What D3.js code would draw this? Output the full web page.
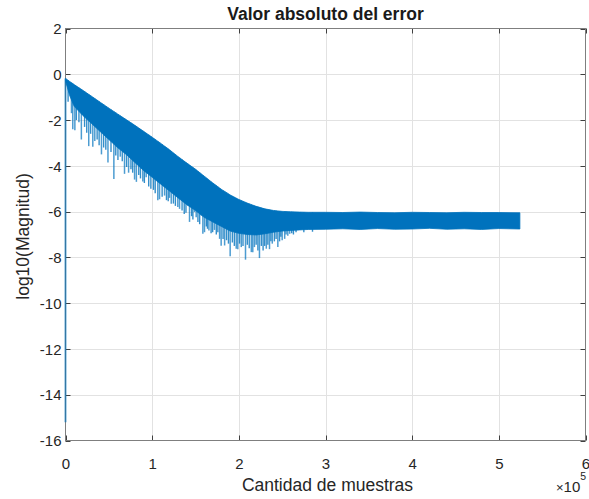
<!DOCTYPE html>
<html>
<head>
<meta charset="utf-8">
<script src="https://cdn.jsdelivr.net/npm/d3@7"></script>
<style>
  html, body { margin: 0; padding: 0; background: #ffffff; }
  svg { display: block; font-family: "Liberation Sans", Arial, Helvetica, sans-serif; }
</style>
</head>
<body>
<svg id="chart" width="589" height="499"></svg>
<script>
// Error magnitude (log10) of a 2^19-sample run.
// The dense trace is summarised by its upper and lower envelope,
// plus its downward excursions as individual spikes.
const sampleX = [0, 5000, 10000, 20000, 30000, 40000, 50000, 60000, 70000, 80000,
  90000, 100000, 110000, 120000, 130000, 140000, 150000, 160000, 170000, 180000,
  190000, 200000, 210000, 220000, 230000, 240000, 250000, 260000, 270000, 280000,
  300000, 320000, 340000, 360000, 380000, 400000, 420000, 440000, 460000, 480000,
  500000, 524288];

const upperLog = [-0.18, -0.32, -0.45, -0.70, -0.96, -1.22, -1.48, -1.73, -1.98, -2.23,
  -2.49, -2.75, -3.02, -3.30, -3.60, -3.88, -4.15, -4.45, -4.75, -5.03,
  -5.27, -5.47, -5.63, -5.77, -5.88, -5.95, -5.99, -6.01, -6.02, -6.03,
  -6.03, -6.04, -6.02, -6.04, -6.05, -6.03, -6.04, -6.05, -6.03, -6.04,
  -6.04, -6.05];

const lowerLog = [-0.30, -0.95, -1.40, -1.80, -2.15, -2.50, -2.85, -3.20, -3.50, -3.85,
  -4.20, -4.50, -4.80, -5.10, -5.40, -5.70, -5.95, -6.25, -6.45, -6.65,
  -6.85, -6.95, -7.00, -7.02, -6.97, -6.90, -6.85, -6.82, -6.80, -6.78,
  -6.77, -6.75, -6.78, -6.74, -6.77, -6.76, -6.73, -6.77, -6.75, -6.78,
  -6.74, -6.76];

// deepest downward spikes
const spikeX = [6900, 8400, 10800, 18300, 26800, 31500, 33800, 41500, 49000, 55800,
  63200, 68100, 72800, 79700, 81800, 89200, 93100, 106500, 108500, 114300,
  120000, 122000, 129600, 131600, 141200, 143100, 149000, 150800, 156700, 158500,
  160400, 165500, 171900, 177800, 179600, 183600, 190000, 197000, 198800, 202800,
  207700, 214400, 216100, 218000, 223800, 231700, 235400, 238600, 245000, 250000,
  252900, 256500, 258700];

const spikeLog = [-1.70, -2.40, -2.45, -2.85, -3.14, -3.17, -2.92, -3.50, -3.85, -4.57,
  -3.60, -4.35, -4.30, -4.60, -4.70, -4.68, -4.50, -5.50, -5.46, -5.30,
  -5.40, -5.66, -5.80, -5.88, -5.73, -6.45, -6.02, -6.25, -6.17, -6.97,
  -6.90, -6.82, -6.80, -7.19, -7.49, -7.48, -7.95, -7.62, -7.64, -7.55,
  -8.10, -7.77, -7.78, -7.55, -8.03, -7.62, -7.64, -7.40, -7.55, -7.25,
  -7.19, -7.05, -6.97];

// shorter spikes along the lower edge of the band
const minorSpikeX = [3000, 12500, 15500, 22000, 24500, 29000, 36500, 38800, 44000, 46500,
  52500, 58000, 60500, 65500, 70500, 75500, 77500, 84500, 86500, 91000,
  96000, 98500, 101500, 103500, 111500, 116500, 118500, 124500, 126800, 134500,
  137000, 139000, 145500, 147000, 152800, 154800, 162500, 163800, 168000, 169800,
  174000, 175800, 181800, 185800, 188000, 192500, 194800, 200800, 204800, 209800,
  212000, 220000, 222000, 226000, 228000, 229800, 233500, 237000, 241000, 243000,
  247000, 248500, 254500, 261000, 263000, 266000, 275000, 285000];

const minorSpikeLog = [-1.20, -2.00, -2.10, -2.30, -2.55, -2.60, -2.85, -3.10, -3.20, -3.30,
  -3.40, -3.55, -3.75, -3.80, -4.05, -4.15, -4.30, -4.40, -4.55, -4.75,
  -4.90, -5.00, -5.05, -5.20, -5.35, -5.50, -5.55, -5.65, -5.75, -5.95,
  -6.10, -6.05, -6.20, -6.35, -6.45, -6.55, -6.65, -6.75, -6.95, -6.90,
  -7.00, -6.90, -7.20, -7.25, -7.40, -7.35, -7.50, -7.40, -7.50, -7.45,
  -7.60, -7.45, -7.70, -7.50, -7.70, -7.50, -7.45, -7.30, -7.30, -7.20,
  -7.30, -7.10, -7.00, -6.95, -7.00, -6.90, -6.90, -6.88];

// first two samples: the very first error is near machine precision
const startX = [1, 2];
const startLog = [-15.2, -0.18];

const xTicks = [0, 100000, 200000, 300000, 400000, 500000, 600000];
const xTickLabels = ["0", "1", "2", "3", "4", "5", "6"];
const yTicks = [-16, -14, -12, -10, -8, -6, -4, -2, 0, 2];

const titleText = "Valor absoluto del error";
const xLabelText = "Cantidad de muestras";
const yLabelText = "log10(Magnitud)";

// ---- layout ----
const svg = d3.select("#chart");
const plot = { left: 65.5, right: 585.5, top: 28.5, bottom: 440.5 };
const lineBlue = "#0072BD";
const axisGray = "#7f7f7f";
const textColor = "#262626";

const x = d3.scaleLinear().domain([0, 600000]).range([plot.left, plot.right]);
const y = d3.scaleLinear().domain([-16, 2]).range([plot.bottom, plot.top]);

// grid
const grid = svg.append("g").attr("stroke", "#e2e2e2").attr("stroke-width", 1);
grid.selectAll("line.gx").data(xTicks.slice(1, -1)).join("line")
  .attr("x1", d => Math.round(x(d)) + 0.5).attr("x2", d => Math.round(x(d)) + 0.5)
  .attr("y1", plot.top).attr("y2", plot.bottom);
grid.selectAll("line.gy").data(yTicks.slice(1, -1)).join("line")
  .attr("y1", d => Math.round(y(d)) + 0.5).attr("y2", d => Math.round(y(d)) + 0.5)
  .attr("x1", plot.left).attr("x2", plot.right);

// axes with inward ticks on all four sides
const tickLen = 5;
const axisBottom = d3.axisBottom(x).tickValues(xTicks).tickSize(0).tickFormat((d, i) => xTickLabels[i]);
const axisLeft = d3.axisLeft(y).tickValues(yTicks).tickSize(0).tickFormat(d => String(d));

const gx = svg.append("g").attr("transform", `translate(0,${plot.bottom})`).call(axisBottom);
gx.select(".domain").remove();
gx.selectAll("text").attr("fill", textColor).attr("font-size", 15)
  .attr("font-family", "Liberation Sans, Arial, sans-serif").attr("dy", "0").attr("y", 28);

const gy = svg.append("g").attr("transform", `translate(${plot.left},0)`).call(axisLeft);
gy.select(".domain").remove();
gy.selectAll("text").attr("fill", textColor).attr("font-size", 15)
  .attr("font-family", "Liberation Sans, Arial, sans-serif").attr("x", -4).attr("dy", "0.35em");

const ticks = svg.append("g").attr("stroke", "#404040").attr("stroke-width", 1);
xTicks.forEach(t => {
  const px = Math.round(x(t)) + 0.5;
  ticks.append("line").attr("x1", px).attr("x2", px).attr("y1", plot.bottom).attr("y2", plot.bottom - tickLen);
  ticks.append("line").attr("x1", px).attr("x2", px).attr("y1", plot.top).attr("y2", plot.top + tickLen);
});
yTicks.forEach(t => {
  const py = Math.round(y(t)) + 0.5;
  ticks.append("line").attr("y1", py).attr("y2", py).attr("x1", plot.left).attr("x2", plot.left + tickLen);
  ticks.append("line").attr("y1", py).attr("y2", py).attr("x1", plot.right).attr("x2", plot.right - tickLen);
});

svg.append("rect")
  .attr("x", plot.left).attr("y", plot.top)
  .attr("width", plot.right - plot.left).attr("height", plot.bottom - plot.top)
  .attr("fill", "none").attr("stroke", axisGray).attr("stroke-width", 1);

// ---- data ----
const band = sampleX.map((s, i) => ({ s, hi: upperLog[i], lo: lowerLog[i] }));
const upperAt = d3.scaleLinear().domain(sampleX).range(upperLog);

function drawSpikes(xs, vs, opacity, width) {
  svg.append("g")
    .selectAll("line")
    .data(xs.map((s, i) => ({ s, v: vs[i] })))
    .join("line")
    .attr("x1", d => x(d.s)).attr("x2", d => x(d.s))
    .attr("y1", d => y(upperAt(d.s))).attr("y2", d => y(d.v))
    .attr("stroke", lineBlue).attr("stroke-opacity", opacity).attr("stroke-width", width);
}
drawSpikes(minorSpikeX, minorSpikeLog, 0.8, 1.4);
drawSpikes(spikeX, spikeLog, 0.7, 1.5);

// dense band
svg.append("path")
  .datum(band)
  .attr("d", d3.area().x(d => x(d.s)).y0(d => y(d.lo)).y1(d => y(d.hi)))
  .attr("fill", lineBlue).attr("stroke", lineBlue).attr("stroke-width", 0.8);

// start of the trace
svg.append("path")
  .datum(startX.map((s, i) => ({ s, v: startLog[i] })))
  .attr("d", d3.line().x(d => x(d.s)).y(d => y(d.v)))
  .attr("fill", "none").attr("stroke", lineBlue).attr("stroke-opacity", 0.6).attr("stroke-width", 2);

// ---- text ----
svg.append("text")
  .attr("x", (plot.left + plot.right) / 2).attr("y", 20)
  .attr("text-anchor", "middle").attr("font-weight", "bold").attr("font-size", 17.5)
  .attr("fill", "#1a1a1a").text(titleText);

svg.append("text")
  .attr("x", (plot.left + plot.right) / 2 + 2).attr("y", 491)
  .attr("text-anchor", "middle").attr("font-size", 17.5)
  .attr("fill", textColor).text(xLabelText);

svg.append("text")
  .attr("transform", `translate(29,${(plot.top + plot.bottom) / 2 + 2}) rotate(-90)`)
  .attr("text-anchor", "middle").attr("font-size", 17.5)
  .attr("fill", textColor).text(yLabelText);

// exponent marker for the x axis
const expo = svg.append("text").attr("fill", textColor).attr("font-size", 15)
  .attr("x", 556).attr("y", 492);
expo.append("tspan").attr("font-size", 13).text("\u00D7");
expo.append("tspan").text("10");
expo.append("tspan").attr("font-size", 10.5).attr("dy", -12).text("5");
</script>
</body>
</html>
